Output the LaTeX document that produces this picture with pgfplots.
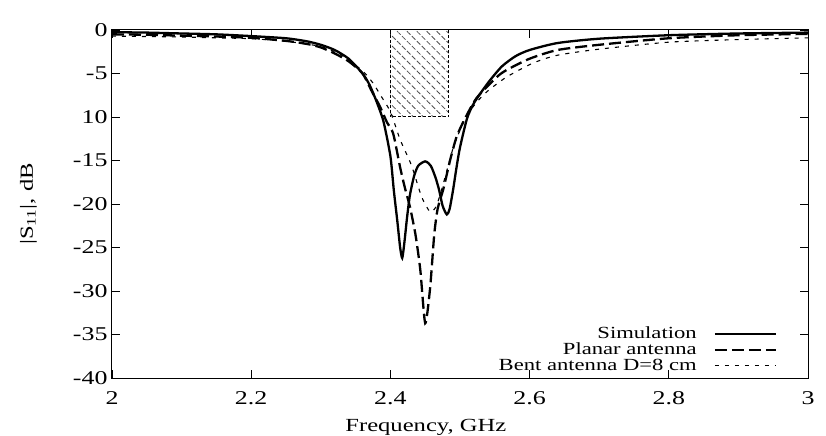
\documentclass[border=0pt]{standalone}
\usepackage{fontspec}
\setmainfont{Liberation Serif}[FakeStretch=1.33]
\usepackage{pgfplots}
\pgfplotsset{compat=1.18}
\usetikzlibrary{patterns.meta}
\begin{document}
\begin{tikzpicture}[font=\fontsize{18.5bp}{21bp}\selectfont]
\begin{axis}[name=ax, scale only axis, width=696bp, height=348bp,
  xmin=2, xmax=3, ymin=-40, ymax=0,
  xtick={2,2.2,2.4,2.6,2.8,3},
  xticklabels={2,2.2,2.4,2.6,2.8,3},
  ytick={-40,-35,-30,-25,-20,-15,-10,-5,0},
  yticklabels={-40,-35,-30,-25,-20,-15,10,-5,0},
  ticklabel style={font=\fontsize{19.5bp}{22bp}\selectfont},
  xticklabel style={yshift=-10bp},
  yticklabel style={xshift=-1bp},
  tick align=inside, major tick length=8bp,
  tick style={black, line width=0.8bp},
  axis line style={line width=1bp},
  xlabel={Frequency, GHz},
  ylabel={|S\textsubscript{11}|, dB},
  xlabel style={at={(axis description cs:0.451,-0.155)}, anchor=base},
  ylabel style={at={(axis description cs:-0.12,0.5)}, anchor=center},
  legend cell align=right,
  legend plot pos=right,
  legend style={at={(rel axis cs:0.96,0.01)}, anchor=south east, draw=none, fill=none,
    nodes={inner sep=0bp, text height=11.8bp, text depth=2.2bp}, row sep=1.6bp, column sep=17bp,
    font=\fontsize{17bp}{19bp}\selectfont},
  legend image code/.code={\draw[#1] (0bp,0bp) -- (61bp,0bp);},
]
\addplot[forget plot, draw=black, densely dashed, line width=1bp,
  pattern={Lines[angle=-45,distance=7bp,line width=0.8bp]}, pattern color=black!70]
  coordinates {(2.4,0) (2.4,-10) (2.4835,-10) (2.4835,0)} -- cycle;

\addplot[black, line width=2.3bp, smooth, tension=0.4] coordinates {
(2.00,-0.25) (2.05,-0.3) (2.10,-0.4) (2.15,-0.5) (2.20,-0.7) (2.25,-0.95)
(2.28,-1.3) (2.30,-1.7) (2.32,-2.3) (2.34,-3.3) (2.36,-5.0) (2.37,-6.3)
(2.38,-8.2) (2.39,-10.5) (2.40,-14.5) (2.405,-18.5) (2.41,-22.0) (2.414,-25.0)
(2.417,-26.2) (2.42,-24.5) (2.424,-21.5) (2.428,-19.0) (2.434,-16.8) (2.44,-15.6)
(2.45,-15.1) (2.458,-15.6) (2.465,-17.0) (2.47,-18.4) (2.475,-20.2) (2.481,-21.2)
(2.485,-20.6) (2.49,-18.4) (2.495,-15.8) (2.50,-13.5) (2.51,-10.2) (2.52,-8.4)
(2.54,-6.1) (2.56,-4.2) (2.58,-3.0) (2.60,-2.3) (2.64,-1.5) (2.70,-1.0)
(2.80,-0.6) (2.90,-0.4) (3.00,-0.3)};
\addlegendentry{Simulation}

\addplot[black, line width=2.3bp, dash pattern=on 12bp off 5bp, smooth, tension=0.4] coordinates {
(2.00,-0.5) (2.05,-0.55) (2.10,-0.65) (2.15,-0.75) (2.20,-0.9) (2.25,-1.25)
(2.28,-1.6) (2.30,-2.0) (2.32,-2.7) (2.34,-3.6) (2.36,-5.0) (2.373,-7.0)
(2.385,-8.8) (2.395,-10.6) (2.404,-11.9) (2.414,-15.8) (2.421,-18.2) (2.428,-20.3)
(2.436,-23.5) (2.443,-27.6) (2.45,-33.7) (2.457,-29.7) (2.463,-23.5) (2.468,-20.5)
(2.476,-18.3) (2.486,-14.9) (2.495,-12.3) (2.507,-10.2) (2.524,-7.8) (2.553,-5.4)
(2.567,-4.6) (2.60,-3.3) (2.64,-2.3) (2.70,-1.7) (2.80,-0.95) (2.90,-0.6) (3.00,-0.45)};
\addlegendentry{Planar antenna}

\addplot[black, line width=1.1bp, dash pattern=on 4bp off 6bp, smooth, tension=0.4] coordinates {
(2.00,-0.7) (2.05,-0.75) (2.10,-0.8) (2.15,-0.9) (2.20,-1.0) (2.25,-1.3)
(2.30,-1.9) (2.33,-2.9) (2.36,-4.7) (2.375,-6.1) (2.385,-7.4) (2.40,-9.4)
(2.414,-12.6) (2.43,-15.5) (2.445,-19.2) (2.457,-20.9) (2.465,-20.4) (2.472,-18.8)
(2.48,-16.5) (2.49,-13.6) (2.50,-11.5) (2.51,-9.8) (2.525,-8.2) (2.54,-7.0)
(2.567,-5.4) (2.605,-3.8) (2.64,-2.9) (2.70,-2.2) (2.80,-1.4) (2.90,-1.1) (3.00,-0.9)};
\addlegendentry{Bent antenna D=8 cm}

\node[anchor=base] at (rel axis cs:0.467,1) [yshift=12bp] {ISM band};
\end{axis}
\pgfresetboundingbox
\path[use as bounding box] ([xshift=-112bp,yshift=-58bp]ax.south west) rectangle ([xshift=18bp,yshift=30bp]ax.north east);
\end{tikzpicture}
\end{document}
